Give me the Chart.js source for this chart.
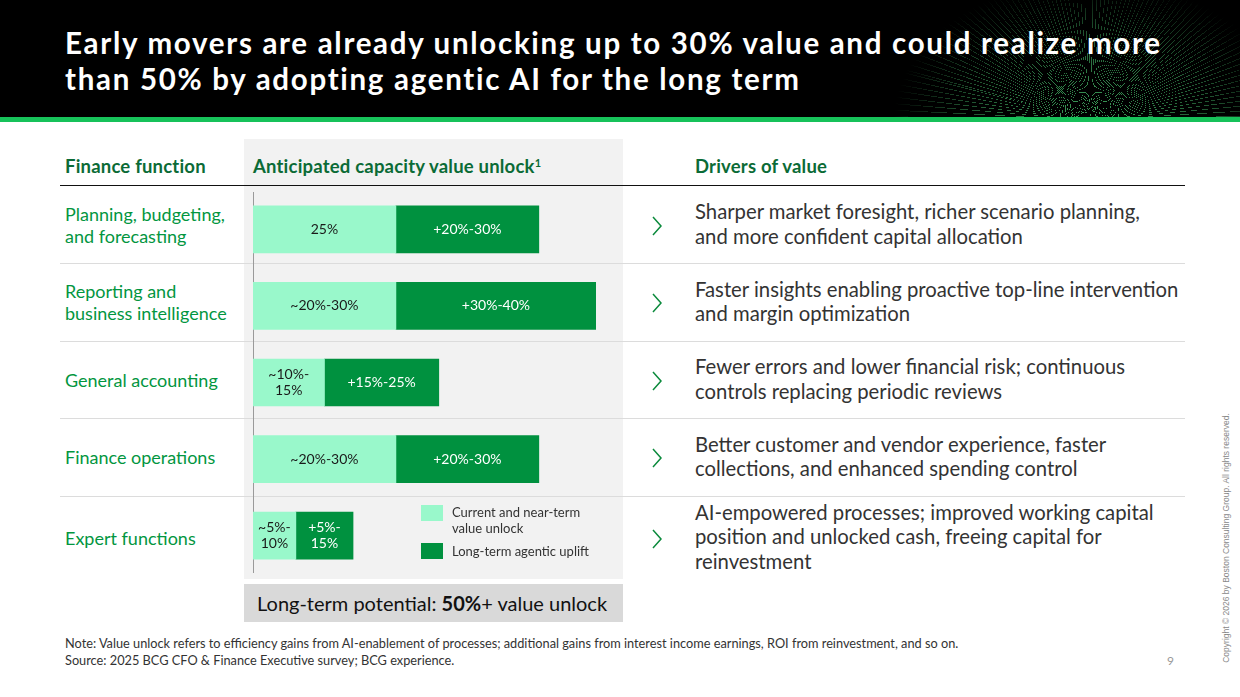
<!DOCTYPE html>
<html>
<head>
<meta charset="utf-8">
<script src="https://cdn.jsdelivr.net/npm/chart.js@4.4.1/dist/chart.umd.min.js"></script>
<style>
  html, body { margin: 0; padding: 0; background: #fff; }
  body { width: 1240px; height: 697px; position: relative; overflow: hidden; font-family: Lato, "Noto Sans", sans-serif; }
  .abs { position: absolute; }
  .banner { left: 0; top: 0; width: 1240px; height: 117px; background: #000; overflow: hidden; }
  .rays { left: 830px; top: -60px; width: 420px; height: 180px;
    background: repeating-conic-gradient(from -75deg at 62% 100%, rgba(80,210,120,0.7) 0deg 0.3deg, transparent 0.3deg 1.9deg);
    -webkit-mask-image: radial-gradient(ellipse 60% 100% at 62% 100%, #000 10%, rgba(0,0,0,0.55) 50%, transparent 78%);
    mask-image: radial-gradient(ellipse 60% 100% at 62% 100%, #000 10%, rgba(0,0,0,0.55) 50%, transparent 78%); }
  .greenbar { left: 0; top: 117px; width: 1240px; height: 5px; background: #17c25a; }
  .title { left: 65px; top: 25px; color: #fff; font-weight: 700; font-size: 29.5px; line-height: 35.5px; letter-spacing: 1.7px; white-space: nowrap; }
  .panel { left: 244px; top: 139px; width: 379px; height: 440px; background: #f2f2f2; }
  .hdr { top: 155px; font-weight: 700; font-size: 18.5px; color: #0b6b36; line-height: 22px; letter-spacing: 0.2px; }
  .hline { left: 60px; width: 1125px; height: 0; }
  .rowlab { left: 65px; width: 178px; display: flex; align-items: center; color: #03963f; font-size: 18px; line-height: 22px; letter-spacing: 0px; }
  .driver { left: 695px; width: 510px; display: flex; align-items: center; color: #333; font-size: 20.3px; line-height: 24.5px; letter-spacing: 0px; }
  .chev { left: 650px; width: 14px; height: 20px; }
  .bigbox { left: 244px; top: 584px; width: 379px; height: 38px; background: #d9d9d9; color: #111; font-size: 20px; line-height: 38px; }
  .legsw { left: 421px; width: 22px; height: 16px; }
  .legtx { left: 452px; font-size: 13px; line-height: 16px; color: #333; }
  .foot { left: 65px; font-size: 12.75px; color: #333; }
  #chartWrap { left: 253px; top: 191px; width: 343px; height: 383px; }
</style>
</head>
<body>
<div class="abs banner"><div class="abs rays"></div></div>
<div class="abs greenbar"></div>
<div class="abs title">Early movers are already unlocking up to 30% value and could realize more<br>than 50% by adopting agentic AI for the long term</div>

<div class="abs panel"></div>

<div class="abs hdr" style="left:65px">Finance function</div>
<div class="abs hdr" style="left:253px">Anticipated capacity value unlock<sup style="font-size:11px;vertical-align:6px;line-height:0">1</sup></div>
<div class="abs hdr" style="left:695px">Drivers of value</div>
<div class="abs hline" style="top:185px;border-top:1.5px solid #111"></div>

<div id="rows"></div>

<div id="chartWrap" class="abs"><canvas id="unlockChart"></canvas></div>

<div class="abs legsw" style="top:505px;background:#99f8cb"></div>
<div class="abs legtx" style="top:504px">Current and near-term<br>value unlock</div>
<div class="abs legsw" style="top:543px;background:#00913f"></div>
<div class="abs legtx" style="top:543px">Long-term agentic uplift</div>

<div class="abs bigbox"><span style="padding-left:13px">Long-term potential: <b>50%</b>+ value unlock</span></div>

<div class="abs foot" style="top:635px">Note: Value unlock refers to efficiency gains from AI-enablement of processes; additional gains from interest income earnings, ROI from reinvestment, and so on.</div>
<div class="abs foot" style="top:652px">Source: 2025 BCG CFO &amp; Finance Executive survey; BCG experience.</div>
<div class="abs" style="left:1167px;top:653px;font-size:12px;color:#999">9</div>
<div class="abs" style="left:1226px;top:538px;width:0;height:0">
  <div style="position:absolute;transform:translate(-50%,-50%) rotate(-90deg);white-space:nowrap;font-size:8.5px;color:#888;font-family:'Liberation Sans',Arial,sans-serif">Copyright © 2026 by Boston Consulting Group. All rights reserved.</div>
</div>

<script>
// finance functions (row labels)
const functions = [
  ['Planning, budgeting,', 'and forecasting'],
  ['Reporting and', 'business intelligence'],
  ['General accounting'],
  ['Finance operations'],
  ['Expert functions']
];
// drivers of value text per row
const drivers = [
  ['Sharper market foresight, richer scenario planning,', 'and more confident capital allocation'],
  ['Faster insights enabling proactive top-line intervention', 'and margin optimization'],
  ['Fewer errors and lower financial risk; continuous', 'controls replacing periodic reviews'],
  ['Better customer and vendor experience, faster', 'collections, and enhanced spending control'],
  ['AI-empowered processes; improved working capital', 'position and unlocked cash, freeing capital for', 'reinvestment']
];
// bar lengths (% value unlock)
const currentUnlock = [25, 25, 12.5, 25, 7.5];
const agenticUplift = [25, 35, 20, 25, 10];
// labels printed inside the bars
const currentLabels = [['25%'], ['~20%-30%'], ['~10%-', '15%'], ['~20%-30%'], ['~5%-', '10%']];
const upliftLabels = [['+20%-30%'], ['+30%-40%'], ['+15%-25%'], ['+20%-30%'], ['+5%-', '15%']];

const rowTops = [186, 263, 341, 418, 496, 579];

// left labels, drivers, chevrons, separators
const rowsEl = document.getElementById('rows');
functions.forEach((lines, i) => {
  const top = rowTops[i], h = rowTops[i + 1] - rowTops[i];
  const lab = document.createElement('div');
  lab.className = 'abs rowlab';
  lab.style.top = top + 'px'; lab.style.height = h + 'px';
  lab.innerHTML = '<div>' + lines.join('<br>') + '</div>';
  rowsEl.appendChild(lab);

  const drv = document.createElement('div');
  drv.className = 'abs driver';
  drv.style.top = top + 'px'; drv.style.height = (h - 2) + 'px';
  drv.innerHTML = '<div>' + drivers[i].join('<br>') + '</div>';
  rowsEl.appendChild(drv);

  const chev = document.createElement('div');
  chev.className = 'abs chev';
  chev.style.top = (top + h / 2 - 9) + 'px';
  chev.innerHTML = '<svg width="14" height="20"><polyline points="3,1 11,10 3,19" fill="none" stroke="#0b8a3c" stroke-width="1.5"/></svg>';
  rowsEl.appendChild(chev);

  if (i > 0) {
    const ln = document.createElement('div');
    ln.className = 'abs hline';
    ln.style.top = top + 'px';
    ln.style.borderTop = '1.5px solid #dcdcdc';
    rowsEl.appendChild(ln);
  }
});

// draws the text inside each bar segment
const barLabels = {
  id: 'barLabels',
  afterDatasetsDraw(chart) {
    const ctx = chart.ctx;
    const sets = [currentLabels, upliftLabels];
    const colors = ['#1a1a1a', '#ffffff'];
    ctx.save();
    ctx.font = '14px Lato, "Noto Sans", sans-serif';
    ctx.textAlign = 'center';
    ctx.textBaseline = 'middle';
    chart.data.datasets.forEach((ds, di) => {
      chart.getDatasetMeta(di).data.forEach((bar, i) => {
        const lines = sets[di][i];
        const cx = (bar.x + bar.base) / 2;
        ctx.fillStyle = colors[di];
        lines.forEach((t, k) => {
          ctx.fillText(t, cx, bar.y + (k - (lines.length - 1) / 2) * 16);
        });
      });
    });
    ctx.restore();
  }
};

// thin vertical baseline at 0%
const baseLine = {
  id: 'baseLine',
  beforeDatasetsDraw(chart) {
    const ctx = chart.ctx;
    const x = chart.scales.x.getPixelForValue(0) + 0.5;
    ctx.save();
    ctx.strokeStyle = '#9a9a9a';
    ctx.lineWidth = 1;
    ctx.beginPath();
    ctx.moveTo(x, 1);
    ctx.lineTo(x, chart.height - 1);
    ctx.stroke();
    ctx.restore();
  }
};

new Chart(document.getElementById('unlockChart'), {
  type: 'bar',
  data: {
    labels: functions.map(f => f.join(' ')),
    datasets: [
      { label: 'Current and near-term value unlock', data: currentUnlock, backgroundColor: '#99f8cb', borderWidth: 0, barThickness: 47 },
      { label: 'Long-term agentic uplift', data: agenticUplift, backgroundColor: '#00913f', borderWidth: 0, barThickness: 47 }
    ]
  },
  options: {
    indexAxis: 'y',
    responsive: true,
    maintainAspectRatio: false,
    animation: false,
    layout: { padding: 0 },
    plugins: { legend: { display: false }, tooltip: { enabled: false } },
    scales: {
      x: { stacked: true, min: 0, max: 60, display: false },
      y: { stacked: true, display: false }
    }
  },
  plugins: [barLabels, baseLine]
});
</script>
</body>
</html>
